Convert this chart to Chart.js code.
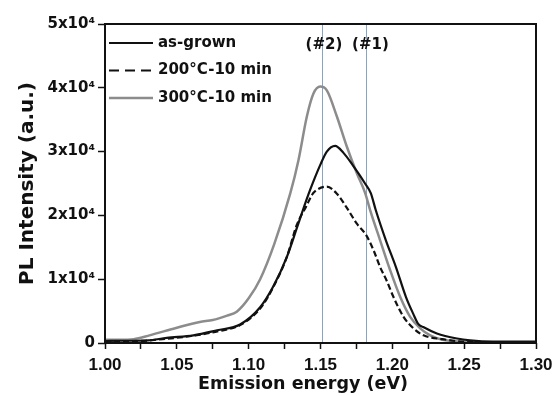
<!DOCTYPE html>
<html lang="en">
<head>
<meta charset="UTF-8">
<title>PL spectra</title>
<script src="https://cdn.jsdelivr.net/npm/chart.js@4.4.0/dist/chart.umd.min.js"></script>
<style>
    body { margin: 0; background: #fff; }
    .chart-container { position: relative; width: 555px; height: 396px; }
</style>
</head>
<body>
<div class="chart-container"><canvas id="plChart" width="555" height="396"></canvas></div>
<script>
// as-grown (solid black)
const grownEnergy = [1.000, 1.010, 1.020, 1.030, 1.043, 1.0615, 1.078, 1.094, 1.108, 1.117, 1.1266, 1.1335, 1.138, 1.1416, 1.145, 1.150, 1.1544, 1.1602, 1.166, 1.173, 1.177, 1.181, 1.185, 1.1885, 1.1955, 1.2025, 1.2095, 1.2145, 1.218, 1.2215, 1.231, 1.245, 1.254, 1.27, 1.30];
const grownIntensity = [300, 350, 350, 400, 800, 1200, 2000, 2900, 5600, 8800, 13500, 18000, 21000, 23300, 25300, 28000, 30000, 30900, 29800, 27700, 26400, 25000, 23500, 20800, 16100, 11900, 7200, 4600, 3000, 2500, 1500, 700, 400, 200, 200];

// 200°C-10 min (dashed black)
const anneal200Energy = [1.000, 1.020, 1.040, 1.060, 1.080, 1.094, 1.108, 1.117, 1.1266, 1.1335, 1.1405, 1.144, 1.1474, 1.1544, 1.1614, 1.168, 1.1753, 1.1818, 1.187, 1.1915, 1.196, 1.2008, 1.2078, 1.2147, 1.2217, 1.235, 1.25, 1.27, 1.30];
const anneal200Intensity = [300, 300, 600, 1100, 1900, 2800, 5400, 8700, 13500, 18500, 21600, 23200, 24000, 24500, 23400, 21300, 18700, 16900, 14500, 11900, 9800, 7200, 4100, 2300, 1200, 600, 200, 100, 100];

// 300°C-10 min (grey)
const anneal300Energy = [1.000, 1.010, 1.020, 1.031, 1.050, 1.066, 1.075, 1.085, 1.0917, 1.100, 1.108, 1.1178, 1.1289, 1.1347, 1.1405, 1.1451, 1.1498, 1.1544, 1.1614, 1.1683, 1.1753, 1.1811, 1.1846, 1.1915, 1.1985, 1.2055, 1.2124, 1.2194, 1.2264, 1.235, 1.25, 1.27, 1.30];
const anneal300Intensity = [500, 500, 600, 1200, 2400, 3300, 3600, 4300, 4900, 7000, 10000, 15500, 23400, 28700, 35500, 39100, 40200, 39600, 35500, 30800, 26600, 23500, 20800, 16100, 11400, 7200, 4100, 2300, 1200, 500, 200, 100, 100];

const seriesLabels = ['as-grown', '200°C-10 min', '300°C-10 min'];
const markerEnergy = [1.151, 1.182];
const markerLabels = ['(#2)', '(#1)'];

function toPoints(xs, ys) {
    return xs.map((x, i) => ({ x: x, y: ys[i] }));
}

// vertical marker lines, frame and the in-plot legend
const decorations = {
    id: 'decorations',
    beforeDatasetsDraw(chart) {
        const { ctx, chartArea, scales } = chart;
        ctx.save();
        ctx.strokeStyle = '#86a4c6';
        ctx.lineWidth = 1;
        markerEnergy.forEach(e => {
            const x = Math.round(scales.x.getPixelForValue(e)) + 0.5;
            ctx.beginPath();
            ctx.moveTo(x, chartArea.top);
            ctx.lineTo(x, chartArea.bottom);
            ctx.stroke();
        });
        ctx.restore();
    },
    afterDatasetsDraw(chart) {
        const { ctx, chartArea, scales } = chart;
        ctx.save();
        ctx.strokeStyle = '#111';
        ctx.lineWidth = 2;
        ctx.strokeRect(chartArea.left, chartArea.top, chartArea.right - chartArea.left, chartArea.bottom - chartArea.top);

        ctx.fillStyle = '#111';
        ctx.font = 'bold 15px "DejaVu Sans"';
        ctx.textAlign = 'center';
        ctx.textBaseline = 'middle';
        markerLabels.forEach((t, i) => {
            const x = scales.x.getPixelForValue(markerEnergy[i]) + (i === 0 ? 2 : 4);
            ctx.fillText(t, x, chartArea.top + 21);
        });

        // legend
        ctx.textAlign = 'left';
        chart.data.datasets.forEach((ds, i) => {
            const y = chartArea.top + 19 + i * 27.5;
            ctx.beginPath();
            ctx.strokeStyle = ds.borderColor;
            ctx.lineWidth = ds.borderWidth;
            ctx.setLineDash(ds.borderDash && ds.borderDash.length ? [10, 6] : []);
            ctx.moveTo(chartArea.left + 4, y);
            ctx.lineTo(chartArea.left + 48, y);
            ctx.stroke();
            ctx.setLineDash([]);
            ctx.fillStyle = '#111';
            ctx.fillText(ds.label, chartArea.left + 53, y);
        });
        ctx.restore();
    }
};

const ctx = document.getElementById('plChart').getContext('2d');
new Chart(ctx, {
    type: 'line',
    data: {
        datasets: [{
            label: seriesLabels[0],
            data: toPoints(grownEnergy, grownIntensity),
            borderColor: '#111',
            borderWidth: 2.2,
            borderDash: [],
            pointRadius: 0,
            cubicInterpolationMode: 'monotone'
        }, {
            label: seriesLabels[1],
            data: toPoints(anneal200Energy, anneal200Intensity),
            borderColor: '#111',
            borderWidth: 2.2,
            borderDash: [6, 3],
            pointRadius: 0,
            cubicInterpolationMode: 'monotone'
        }, {
            label: seriesLabels[2],
            data: toPoints(anneal300Energy, anneal300Intensity),
            borderColor: '#8c8c8c',
            borderWidth: 2.5,
            borderDash: [],
            pointRadius: 0,
            cubicInterpolationMode: 'monotone'
        }]
    },
    options: {
        responsive: false,
        animation: false,
        maintainAspectRatio: false,
        layout: { padding: { top: 24, right: 19, left: 0, bottom: 0 } },
        plugins: {
            legend: { display: false },
            tooltip: { enabled: false }
        },
        scales: {
            x: {
                type: 'linear',
                min: 1.0,
                max: 1.3,
                afterFit: s => { s.height = 53; s.paddingLeft = 0; s.paddingRight = 0; },
                border: { display: false },
                grid: {
                    drawOnChartArea: false,
                    tickLength: 6,
                    tickColor: '#111',
                    tickWidth: 1.5
                },
                ticks: {
                    stepSize: 0.025,
                    autoSkip: false,
                    maxRotation: 0,
                    padding: 6,
                    color: '#111',
                    font: { family: 'Liberation Sans', weight: 'bold', size: 17 },
                    callback: v => {
                        const r = Math.round(v * 1000);
                        return r % 50 === 0 ? (r / 1000).toFixed(2) : '';
                    }
                },
                title: {
                    display: true,
                    // trailing em spaces nudge the centred title left, as in the original
                    text: 'Emission energy (eV)\u2003\u2003',
                    color: '#111',
                    font: { family: 'DejaVu Sans', weight: 'bold', size: 17.5 },
                    padding: { top: 0, bottom: 1 }
                }
            },
            y: {
                min: 0,
                max: 50000,
                afterFit: s => { s.width = 105; },
                border: { display: false },
                grid: {
                    drawOnChartArea: false,
                    tickLength: 7,
                    tickColor: '#111',
                    tickWidth: 1.5
                },
                ticks: {
                    stepSize: 10000,
                    padding: 3,
                    color: '#111',
                    font: { family: 'DejaVu Sans', weight: 'bold', size: 15 },
                    callback: v => v === 0 ? '0' : (v / 10000) + 'x10⁴'
                },
                title: {
                    display: true,
                    text: 'PL Intensity (a.u.)',
                    color: '#111',
                    font: { family: 'DejaVu Sans', weight: 'bold', size: 20 },
                    padding: { top: 16, bottom: 0 }
                }
            }
        }
    },
    plugins: [decorations]
});
</script>
</body>
</html>
